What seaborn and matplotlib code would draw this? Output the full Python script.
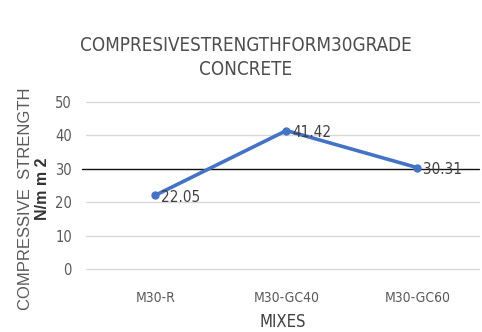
import matplotlib
matplotlib.use("Agg")
import matplotlib.pyplot as plt
import seaborn as sns
import pandas as pd

categories = ["M30-R", "M30-GC40", "M30-GC60"]
values = [22.05, 41.42, 30.31]
yticks = [0, 10, 20, 30, 40, 50]

sns.set_style("white")
plt.rcParams['font.family'] = ['DejaVu Sans']
plt.rcParams['font.stretch'] = 'condensed'

df = pd.DataFrame({"mix": categories, "strength": values})

fig = plt.figure(figsize=(4.82, 3.32), dpi=100)
ax = fig.add_axes([0.178, 0.19, 0.816, 0.503])

for t in yticks:
    if t == 30:
        continue
    ax.axhline(t, color="#d9d9d9", lw=1, zorder=0, clip_on=False)
ax.axhline(30, color="#111111", lw=1, zorder=1, xmin=-0.01, xmax=1.0, clip_on=False)

sns.lineplot(data=df, x="mix", y="strength", ax=ax, color="#4472C4", lw=2.6,
             marker="o", markersize=6, markeredgewidth=0, sort=False, zorder=3)

for i, v in enumerate(values):
    ax.annotate(f"{v:.2f}", (i, v), xytext=(4, -1.5), textcoords="offset points",
                fontsize=11, color="#404040", va="center", ha="left", zorder=4)

ax.set_xlim(-0.53, 2.47)
ax.set_ylim(0, 50)
ax.set_yticks(yticks)
ax.tick_params(axis="both", length=0, labelcolor="#595959")
ax.tick_params(axis="x", pad=16, labelsize=10)
ax.tick_params(axis="y", pad=10, labelsize=10.5)
for s in ax.spines.values():
    s.set_visible(False)

ax.set_xlabel("MIXES", fontsize=12, color="#404040", labelpad=6)
ax.set_ylabel("")
fig.text(0.053, 0.40, "COMPRESSIVE  STRENGTH", rotation=90, ha="center", va="center",
         fontsize=12, color="#595959", family=["Liberation Sans", "DejaVu Sans"])
fig.text(0.088, 0.43, "N/m m 2", rotation=90, ha="center", va="center",
         fontsize=11.5, color="#333333", fontweight="bold", family=["Liberation Sans", "DejaVu Sans"])

fig.text(0.51, 0.864, "COMPRESIVESTRENGTHFORM30GRADE", ha="center", va="center",
         fontsize=13.5, color="#4d4d4d")
fig.text(0.51, 0.79, "CONCRETE", ha="center", va="center", fontsize=13.5, color="#4d4d4d")

fig.savefig("out.png", dpi=100)
